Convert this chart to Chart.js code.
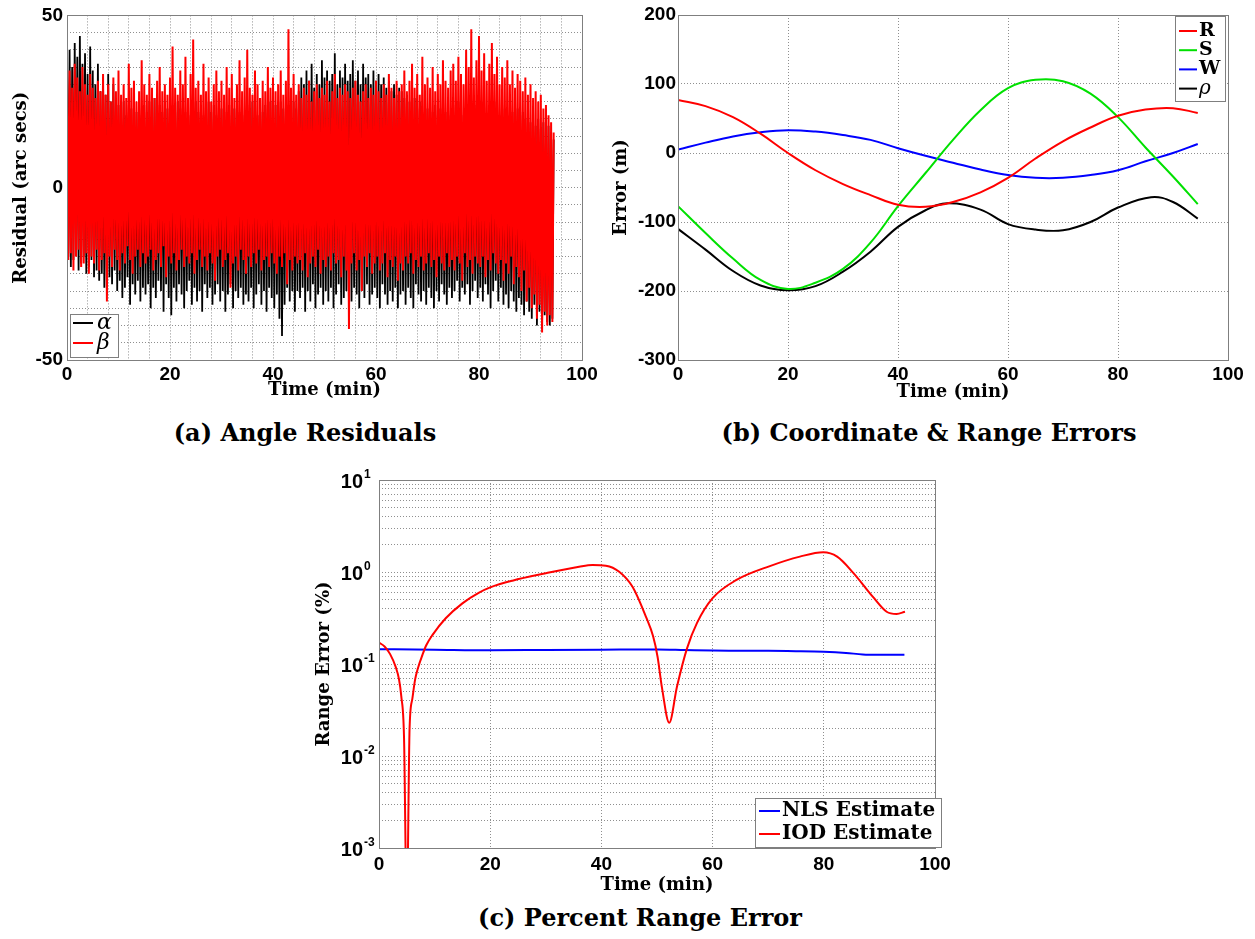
<!DOCTYPE html>
<html>
<head>
<meta charset="utf-8">
<title>Orbit determination results</title>
<script src="https://cdn.jsdelivr.net/npm/chart.js@4.4.1/dist/chart.umd.min.js"></script>
<style>
  html, body { margin: 0; padding: 0; background: #fff; }
  body { width: 1255px; height: 939px; position: relative; overflow: hidden; }
  canvas { position: absolute; }
  .cap {
    position: absolute; white-space: nowrap; color: #000;
    font-family: "DejaVu Serif", serif; font-weight: bold; font-size: 24px;
    transform: translate(-50%, -50%);
  }
</style>
</head>
<body>
<canvas id="resid" width="620" height="410" style="left:0px;top:0px"></canvas>
<canvas id="coord" width="665" height="410" style="left:590px;top:0px"></canvas>
<canvas id="range" width="700" height="440" style="left:280px;top:460px"></canvas>
<div class="cap" style="left:305px;top:432px">(a) Angle Residuals</div>
<div class="cap" style="left:929px;top:432px">(b) Coordinate &amp; Range Errors</div>
<div class="cap" style="left:640px;top:917px">(c) Percent Range Error</div>
<script>
// ---------- (a) angle residuals, arc seconds, one sample every residStep minutes ----------
const residStep = 0.25;
const alphaResid = [
  37,-20,40,-23,35,-21,42,-19,38,-24,44,-22,36,-20,39,-25,33,-23,41,-21,
  34,-26,30,-24,36,-27,28,-25,32,-29,27,-31,33,-26,25,-28,30,-24,26,-30,
  24,-27,22,-32,25,-29,21,-26,24,-34,23,-28,26,-31,22,-27,25,-33,21,-29,
  24,-31,22,-28,25,-35,23,-29,26,-32,21,-27,24,-30,22,-36,25,-28,23,-32,
  21,-37,24,-29,22,-33,25,-28,23,-31,26,-35,22,-30,24,-27,21,-34,23,-29,
  25,-33,22,-30,24,-36,21,-28,23,-32,25,-29,22,-34,24,-31,21,-28,26,-33,
  23,-30,25,-36,22,-31,24,-28,21,-35,23,-30,25,-32,22,-29,24,-34,21,-31,
  24,-33,22,-29,25,-35,23,-31,21,-28,26,-34,22,-30,24,-36,23,-29,25,-32,
  22,-35,24,-31,21,-38,25,-43,23,-34,22,-29,24,-33,21,-30,25,-36,23,-30,
  28,-32,32,-29,30,-36,34,-30,31,-33,36,-28,29,-35,33,-31,30,-29,37,-34,
  32,-30,34,-33,31,-29,33,-35,39,-31,30,-28,34,-34,32,-32,36,-30,31,-36,
  33,-33,37,-29,31,-31,34,-35,30,-30,36,-32,32,-28,33,-34,30,-31,34,-29,
  31,-32,33,-35,30,-28,32,-31,29,-34,31,-30,28,-33,30,-29,27,-35,29,-31,
  28,-30,26,-34,27,-29,25,-32,24,-35,26,-28,23,-31,25,-33,22,-30,24,-34,
  23,-29,25,-32,22,-35,24,-30,21,-33,23,-28,25,-31,22,-34,24,-29,21,-32,
  24,-30,22,-27,25,-33,23,-29,21,-31,24,-28,22,-34,25,-30,23,-27,24,-32,
  22,-29,25,-33,23,-28,21,-31,24,-35,22,-30,25,-27,23,-33,21,-29,24,-34,
  23,-31,21,-35,24,-30,22,-33,20,-36,23,-32,21,-34,22,-37,20,-33,21,-36,
  19,-38,21,-34,18,-40,20,-36,17,-41,19,-37,16,-39,18,-40,15,-38,14
];
const betaResid = [
  31,-21,34,-19,29,-24,36,-20,32,-18,28,-23,35,-22,30,-19,27,-25,33,-20,
  29,-22,26,-18,31,-24,28,-21,33,-19,27,-33,30,-20,25,-23,32,-18,28,-21,
  34,-24,27,-19,30,-22,26,-17,36,-21,29,-25,31,-20,25,-18,28,-23,37,-19,
  30,-22,27,-20,33,-18,29,-24,26,-21,31,-19,35,-23,28,-17,30,-26,27,-20,
  32,-22,41,-19,29,-24,27,-21,34,-18,30,-23,38,-20,26,-22,33,-19,43,-25,
  29,-21,31,-18,27,-23,36,-20,28,-24,32,-19,25,-22,30,-27,34,-20,28,-18,
  31,-23,27,-21,35,-19,29,-29,33,-22,26,-20,30,-24,37,-18,28,-21,32,-25,
  40,-20,29,-23,27,-19,34,-22,30,-18,26,-24,31,-21,28,-20,35,-23,29,-19,
  32,-22,28,-25,30,-20,34,-23,27,-19,31,-28,46,-21,29,-24,33,-20,27,-22,
  30,-21,26,-24,29,-19,27,-26,31,-22,25,-20,28,-23,30,-18,26,-25,29,-21,
  27,-23,31,-20,25,-24,28,-19,33,-22,26,-21,29,-26,27,-20,30,-24,28,-41,
  26,-22,29,-19,31,-24,27,-21,25,-30,28,-20,30,-23,26,-19,29,-25,27,-22,
  31,-20,28,-24,26,-22,30,-19,27,-26,33,-21,29,-23,26,-20,31,-27,28,-22,
  30,-24,34,-20,28,-22,31,-19,36,-25,29,-21,33,-23,27,-20,38,-24,30,-22,
  32,-19,29,-23,35,-21,28,-26,33,-20,30,-22,37,-24,31,-19,29,-23,34,-21,
  36,-24,31,-20,38,-22,33,-27,30,-19,40,-23,35,-21,46,-25,32,-20,37,-22,
  44,-23,34,-20,39,-26,31,-21,36,-24,42,-19,33,-22,38,-25,30,-21,35,-27,
  32,-22,37,-25,30,-20,34,-28,29,-23,33,-26,31,-30,28,-24,32,-33,27,-29,
  30,-35,26,-31,28,-38,25,-34,27,-42,23,-36,24,-40,21,-37,19,-39,16
];
const residTicksY = [-50, 0, 50];

// ---------- (b) RSW coordinate errors and range error, metres ----------
const coordTime = [0,5,10,15,20,25,30,35,40,45,50,55,60,65,70,75,80,85,90,94.5];
const errR = [77,68,52,28,0,-25,-45,-61,-75,-78,-71,-57,-36,-8,17,37,54,63,65,58];
const errS = [-77,-116,-153,-184,-197,-188,-168,-130,-77,-29,19,62,94,106,104,86,52,8,-34,-74];
const errW = [5,15,24,30,33,31,26,19,7,-4,-14,-24,-32,-36,-36,-32,-25,-12,0,13];
const rhoTime = [0,5,10,15,20,25,30,35,40,45,49,55,60,65,70,75,80,86,90,94.5];
const errRho = [-110,-140,-171,-192,-199,-193,-172,-143,-107,-83,-73,-82,-103,-111,-112,-100,-79,-64,-71,-95];

// ---------- (c) percent range error ----------
const nlsTime = [0,10,20,30,40,50,55,60,65,70,75,80,84,87,90,94.5];
const nlsPct = [0.145,0.143,0.141,0.142,0.143,0.144,0.142,0.140,0.139,0.139,0.138,0.136,0.132,0.127,0.126,0.126];
const iodTime = [0,1,2,3,3.6,4,4.5,5,5.5,6,6.5,7,7.8,8.5,9.6,12,15,18,20,24,30,36,38.4,40.8,43.2,45.6,48,49.3,50.1,50.9,52.2,53.6,55.4,57.2,60,64.3,70.3,75.7,79.9,82.4,85.3,88.8,91.3,93.1,94.6];
const iodPct = [0.171,0.155,0.128,0.093,0.068,0.045,0.016,0.0002,0.02,0.042,0.068,0.09,0.125,0.16,0.206,0.314,0.456,0.596,0.68,0.805,0.968,1.14,1.19,1.17,1.007,0.69,0.327,0.2,0.12,0.055,0.023,0.057,0.148,0.28,0.52,0.82,1.16,1.47,1.64,1.47,0.98,0.54,0.37,0.35,0.37];
const decadeTicks = [0.001, 0.01, 0.1, 1, 10];
const decadeSubSteps = [1,2,3,4,5,6,7,8,9];

// ---------- shared styling ----------
const gridColor = '#8f8f8f';
const gridDash = [1, 2];
const frameColor = '#7f7f7f';
const tickFont = { family: '"Liberation Sans", Arial, sans-serif', weight: 'bold', size: 19 };
const titleFont = { family: '"DejaVu Serif", serif', weight: 'bold', size: 18 };

const pairs = (xs, ys) => ys.map((y, i) => ({ x: xs[i], y }));
const sampled = (ys, step) => ys.map((y, i) => ({ x: i * step, y }));

// axes box, boxed legend and 10^n labels
const decor = {
  id: 'decor',
  afterDatasetsDraw(chart, args, opts) {
    const { ctx, chartArea: a } = chart;
    ctx.save();
    ctx.setLineDash([]);
    ctx.strokeStyle = frameColor;
    ctx.lineWidth = 1;
    const l = Math.round(a.left), t = Math.round(a.top), r = Math.round(a.right), b = Math.round(a.bottom);
    ctx.strokeRect(l + 0.5, t + 0.5, r - l, b - t);

    const L = opts.legend;
    if (L) {
      const sets = chart.data.datasets;
      let maxW = 0;
      sets.forEach(d => { ctx.font = d.legendFont || L.font; maxW = Math.max(maxW, ctx.measureText(d.label).width); });
      const w = Math.round(L.textX + maxW + L.padR), h = L.height;
      const x = L.corner.includes('r') ? r - L.dx - w : l + L.dx;
      const y = L.corner.includes('b') ? b - L.dy - h : t + L.dy;
      ctx.fillStyle = '#fff';
      ctx.fillRect(x, y, w, h);
      ctx.strokeStyle = frameColor;
      ctx.strokeRect(x + 0.5, y + 0.5, w, h);
      sets.forEach((d, i) => {
        const cy = y + L.row0 + i * L.rowH;
        ctx.strokeStyle = d.borderColor;
        ctx.lineWidth = 2;
        ctx.beginPath();
        ctx.moveTo(x + L.sampleX0, cy);
        ctx.lineTo(x + L.sampleX1, cy);
        ctx.stroke();
        ctx.fillStyle = '#000';
        ctx.font = d.legendFont || L.font;
        ctx.textAlign = 'left';
        ctx.textBaseline = 'middle';
        ctx.fillText(d.label, x + L.textX, cy + (L.textDy || 0));
      });
    }
    ctx.restore();
  },
  afterDraw(chart, args, opts) {
    const P = opts.powers;
    if (!P) return;
    const { ctx, chartArea: a } = chart;
    const s = chart.scales.y;
    ctx.save();
    ctx.fillStyle = '#000';
    ctx.textBaseline = 'alphabetic';
    P.values.forEach(v => {
      const y = s.getPixelForValue(v);
      const e = String(Math.round(Math.log10(v)));
      ctx.font = P.baseFont;
      ctx.textAlign = 'right';
      ctx.fillText('10', a.left - P.baseGap, y + P.baseDrop);
      ctx.font = P.expFont;
      ctx.textAlign = 'left';
      ctx.fillText(e, a.left - P.baseGap + 1, y + P.expDrop);
    });
    ctx.restore();
  }
};

function axisX(extra) {
  return Object.assign({
    type: 'linear', min: 0, max: 100,
    grid: { color: gridColor, lineWidth: 1, drawTicks: false, borderDash: gridDash },
    border: { display: false, dash: gridDash },
    ticks: { stepSize: 20, autoSkip: false, maxRotation: 0, minRotation: 0, padding: 3, font: tickFont, color: '#000' },
    title: { display: true, text: 'Time (min)', font: titleFont, color: '#000' }
  }, extra);
}
function axisY(extra) {
  return Object.assign({
    grid: { color: gridColor, lineWidth: 1, drawTicks: false, borderDash: gridDash },
    border: { display: false, dash: gridDash },
    ticks: { autoSkip: false, padding: 4, font: tickFont, color: '#000' },
    title: { display: true, font: titleFont, color: '#000' }
  }, extra);
}
const base = { responsive: false, animation: false, devicePixelRatio: 1, events: [] };

// (a)
new Chart(document.getElementById('resid'), {
  type: 'line',
  data: {
    datasets: [
      { label: 'α', data: sampled(alphaResid, residStep), borderColor: '#000000', borderWidth: 1.8, pointRadius: 0, tension: 0, order: 2, legendFont: 'italic 22px "DejaVu Serif"' },
      { label: 'β', data: sampled(betaResid, residStep), borderColor: '#ff0000', borderWidth: 2, pointRadius: 0, tension: 0, order: 1, legendFont: 'italic 22px "DejaVu Serif"' }
    ]
  },
  options: Object.assign({}, base, {
    layout: { padding: { top: 15, right: 38, left: 0, bottom: 0 } },
    plugins: {
      legend: { display: false }, tooltip: { enabled: false },
      decor: { legend: { corner: 'bl', dx: 3, dy: 3, height: 43, row0: 9, rowH: 20, sampleX0: 3, sampleX1: 23, textX: 27, padR: 6, font: 'italic 22px "DejaVu Serif"' } }
    },
    scales: {
      x: axisX({
        afterFit: s => { s.height = 50; },
        ticks: { stepSize: 4, autoSkip: false, maxRotation: 0, minRotation: 0, padding: 3, font: tickFont, color: '#000',
                 callback: v => (v % 20 === 0 ? v : '') },
        title: { display: true, text: 'Time (min)', font: titleFont, color: '#000', padding: { top: 0, bottom: 9 } }
      }),
      y: axisY({
        min: -50, max: 50,
        afterFit: s => { s.width = 67; },
        ticks: { stepSize: 5, autoSkip: false, padding: 4, font: tickFont, color: '#000',
                 callback: v => (residTicksY.includes(v) ? v : '') },
        title: { display: true, text: 'Residual (arc secs)', font: titleFont, color: '#000', padding: { top: 11, bottom: 0 } }
      })
    }
  }),
  plugins: [decor]
});

// (b)
const smoothLine = { borderWidth: 2, pointRadius: 0, tension: 0.4 };
new Chart(document.getElementById('coord'), {
  type: 'line',
  data: {
    datasets: [
      Object.assign({ label: 'R', data: pairs(coordTime, errR), borderColor: '#ff0000' }, smoothLine),
      Object.assign({ label: 'S', data: pairs(coordTime, errS), borderColor: '#00e000' }, smoothLine),
      Object.assign({ label: 'W', data: pairs(coordTime, errW), borderColor: '#0000ff' }, smoothLine),
      Object.assign({ label: 'ρ', data: pairs(rhoTime, errRho), borderColor: '#000000', legendFont: 'italic 20px "DejaVu Serif"' }, smoothLine)
    ]
  },
  options: Object.assign({}, base, {
    layout: { padding: { top: 15, right: 27, left: 0, bottom: 0 } },
    plugins: {
      legend: { display: false }, tooltip: { enabled: false },
      decor: { legend: { corner: 'tr', dx: 3, dy: 1, height: 85, row0: 15, rowH: 19.2, sampleX0: 4, sampleX1: 22, textX: 24, padR: 5, font: 'bold 19px "DejaVu Serif"' } }
    },
    scales: {
      x: axisX({
        afterFit: s => { s.height = 50; },
        title: { display: true, text: 'Time (min)', font: titleFont, color: '#000', padding: { top: 0, bottom: 7 } }
      }),
      y: axisY({
        min: -300, max: 200,
        afterFit: s => { s.width = 88; },
        ticks: { stepSize: 100, autoSkip: false, padding: 2, font: tickFont, color: '#000' },
        title: { display: true, text: 'Error (m)', font: titleFont, color: '#000', padding: { top: 21, bottom: 0 } }
      })
    }
  }),
  plugins: [decor]
});

// (c)
const logTicks = [];
decadeTicks.forEach(d => {
  if (d === decadeTicks[decadeTicks.length - 1]) { logTicks.push(d); return; }
  decadeSubSteps.forEach(m => logTicks.push(+(m * d).toPrecision(6)));
});
const monoLine = { borderWidth: 2, pointRadius: 0, cubicInterpolationMode: 'monotone' };
new Chart(document.getElementById('range'), {
  type: 'line',
  data: {
    datasets: [
      Object.assign({ label: 'NLS Estimate', data: pairs(nlsTime, nlsPct), borderColor: '#0000ff', order: 2 }, monoLine),
      Object.assign({ label: 'IOD Estimate', data: pairs(iodTime, iodPct), borderColor: '#ff0000', order: 1 }, monoLine)
    ]
  },
  options: Object.assign({}, base, {
    layout: { padding: { top: 20, right: 45, left: 0, bottom: 0 } },
    plugins: {
      legend: { display: false }, tooltip: { enabled: false },
      decor: {
        legend: { corner: 'br', dx: -6, dy: 1, height: 49, row0: 13, rowH: 23, sampleX0: 4, sampleX1: 25, textX: 27, padR: 6, font: 'bold 20px "DejaVu Serif"' },
        powers: { values: decadeTicks, baseFont: 'bold 20px "Liberation Sans", Arial, sans-serif', expFont: 'bold 12px "Liberation Sans", Arial, sans-serif', baseGap: 16, baseDrop: 8, expDrop: -2 }
      }
    },
    scales: {
      x: axisX({
        afterFit: s => { s.height = 52; },
        ticks: { stepSize: 20, autoSkip: false, maxRotation: 0, minRotation: 0, padding: 5, font: tickFont, color: '#000' },
        title: { display: true, text: 'Time (min)', font: titleFont, color: '#000', padding: { top: 0, bottom: 4 } }
      }),
      y: axisY({
        type: 'logarithmic', min: 0.001, max: 10,
        afterFit: s => { s.width = 99; },
        afterBuildTicks: s => { s.ticks = logTicks.map(v => ({ value: v })); },
        ticks: { display: false, autoSkip: false },
        title: { display: true, text: 'Range Error (%)', font: titleFont, color: '#000', padding: { top: 34, bottom: 0 } }
      })
    }
  }),
  plugins: [decor]
});
</script>
</body>
</html>
